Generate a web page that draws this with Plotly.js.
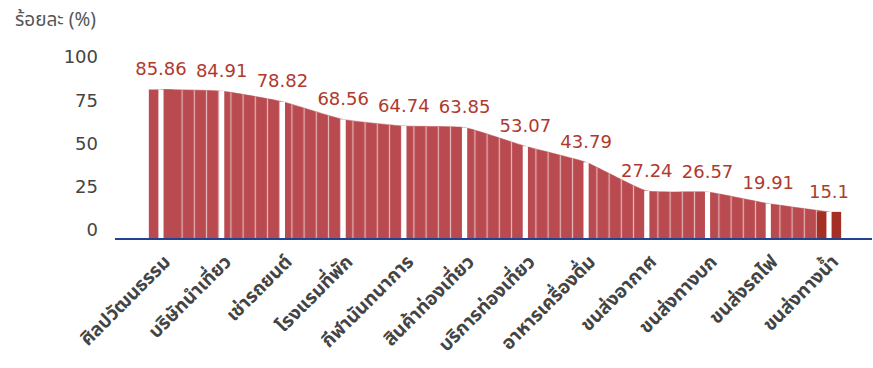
<!DOCTYPE html>
<html>
<head>
<meta charset="utf-8">
<script src="https://cdn.plot.ly/plotly-3.0.1.min.js"></script>
<style>html,body{margin:0;padding:0;background:#fff;}#chart{width:873px;height:368px;}</style>
</head>
<body>
<div id="chart"></div>
<script>
const categories = ["ศิลปวัฒนธรรม","บริษัทนำเที่ยว","เช่ารถยนต์","โรงแรมที่พัก","กีฬานันทนาการ","สินค้าท่องเที่ยว","บริการท่องเที่ยว","อาหารเครื่องดื่ม","ขนส่งอากาศ","ขนส่งทางบก","ขนส่งรถไฟ","ขนส่งทางน้ำ"];
const values = [85.86, 84.91, 78.82, 68.56, 64.74, 63.85, 53.07, 43.79, 27.24, 26.57, 19.91, 15.1];
const valueLabels = ["85.86","84.91","78.82","68.56","64.74","63.85","53.07","43.79","27.24","26.57","19.91","15.1"];
const yTicks = [0, 25, 50, 75, 100];

const idx = categories.map((_, i) => i);
const areaColor = "#b94a4f";
const darkColor = "#a62f25";
const endColors = values.map((_, i) => i === 0 ? areaColor : (i === values.length - 1 ? darkColor : "rgba(0,0,0,0)"));

const traces = [
  {
    type: "scatter", x: idx, y: values, mode: "lines",
    line: {shape: "spline", smoothing: 0.45, width: 0.5, color: areaColor},
    fill: "tozeroy", fillcolor: areaColor,
    fillpattern: {shape: "|", bgcolor: areaColor, fgcolor: "#ffffff", fgopacity: 0.6, size: 12.2, solidity: 0.1},
    hoverinfo: "skip", showlegend: false
  },
  {
    type: "scatter", x: idx, y: values, mode: "markers+text",
    marker: {size: 14, color: "rgba(0,0,0,0)"},
    text: valueLabels, textposition: "top center", cliponaxis: false,
    textfont: {family: "DejaVu Sans, sans-serif", size: 18, color: "#b0392e"},
    hoverinfo: "skip", showlegend: false
  },
  {
    type: "bar", x: idx, y: values, xaxis: "x2", yaxis: "y2", width: 0.4,
    marker: {color: endColors, line: {width: 0}},
    hoverinfo: "skip", showlegend: false
  },
  {
    type: "bar", x: idx, y: values, xaxis: "x2", yaxis: "y2", width: 0.085,
    marker: {color: "#ffffff", line: {width: 0}},
    hoverinfo: "skip", showlegend: false
  }
];

const xr = [-0.757, 11.708];
const layout = {
  width: 873, height: 368,
  margin: {l: 115, r: 1, t: 65, b: 130},
  paper_bgcolor: "#ffffff", plot_bgcolor: "#ffffff",
  barmode: "overlay",
  showlegend: false,
  xaxis: {
    type: "linear", range: xr, tickvals: idx, ticktext: categories, tickangle: -45,
    showgrid: false, zeroline: false, showline: true, linecolor: "#23428f", linewidth: 2,
    ticks: "", ticklabelstandoff: 3, ticklabelshift: 4,
    tickfont: {family: "Noto Sans Thai, Noto Sans, sans-serif", size: 19, color: "#444444", weight: "bold"},
    fixedrange: true
  },
  yaxis: {
    range: [0, 100], tickvals: yTicks, ticktext: yTicks.map(String),
    showgrid: false, zeroline: false, showline: false, ticks: "",
    ticklabelstandoff: 16, ticklabelshift: -8,
    tickfont: {family: "DejaVu Sans, sans-serif", size: 18, color: "#444444"},
    fixedrange: true
  },
  xaxis2: {overlaying: "x", range: xr, visible: false, fixedrange: true},
  yaxis2: {overlaying: "y", range: [0, 100], visible: false, fixedrange: true},
  annotations: [{
    text: "ร้อยละ (%)", xref: "paper", yref: "paper", x: -0.0225, y: 1.255,
    xanchor: "right", yanchor: "middle", showarrow: false,
    font: {family: "Noto Sans Thai, Noto Sans, sans-serif", size: 19, color: "#555555"}
  }]
};

Plotly.newPlot("chart", traces, layout, {staticPlot: true, displayModeBar: false});
</script>
</body>
</html>
